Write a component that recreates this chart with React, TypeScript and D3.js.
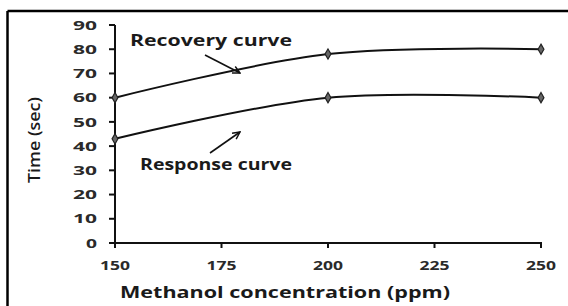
import React from "react";
import * as d3 from "d3";

const concentrations = [150, 200, 250];
const recoveryTimes = [60, 78, 80];
const responseTimes = [43, 60, 60];
const xTicks = [150, 175, 200, 225, 250];
const yTicks = [0, 10, 20, 30, 40, 50, 60, 70, 80, 90];
const xTitle = "Methanol concentration (ppm)";
const yTitle = "Time (sec)";
const recoveryLabel = "Recovery curve";
const responseLabel = "Response curve";

const W = 568;
const H = 306;

export default function App() {
  const x = d3.scaleLinear().domain([150, 250]).range([115, 541]);
  const y = d3.scaleLinear().domain([0, 90]).range([243, 25]);
  const line = d3
    .line<number>()
    .x((_, i) => x(concentrations[i]))
    .y((d) => y(d))
    .curve(d3.curveCatmullRom.alpha(0.5));
  const diamond = d3.symbol().type(d3.symbolDiamond).size(30)() as string;
  const font = "'Open Sans', 'DejaVu Sans', sans-serif";
  const series = [recoveryTimes, responseTimes];

  return (
    <svg
      width={W}
      height={H}
      style={{ position: "absolute", left: 0, top: 0, background: "#fff" }}
    >
      <defs>
        <marker
          id="arr"
          viewBox="0 0 10 10"
          refX="9"
          refY="5"
          markerWidth="9"
          markerHeight="9"
          orient="auto"
          markerUnits="userSpaceOnUse"
        >
          <path d="M1,1 L9,5 L1,9" fill="none" stroke="#111" strokeWidth="1.6" />
        </marker>
      </defs>
      {/* frame */}
      <line x1={7.5} x2={W} y1={11} y2={11} stroke="#000" strokeWidth={2.5} />
      <line x1={7.5} x2={7.5} y1={11} y2={H} stroke="#000" strokeWidth={2.5} />

      {/* y axis */}
      <line x1={x(150)} x2={x(150)} y1={y(90)} y2={y(0)} stroke="#111" strokeWidth={2} />
      {yTicks.map((t) => (
        <g key={"y" + t}>
          <line x1={x(150) - 6} x2={x(150)} y1={y(t)} y2={y(t)} stroke="#111" strokeWidth={2} />
          <text
            x={97}
            y={y(t)}
            dy="0.36em"
            textAnchor="end"
            fontFamily={font}
            fontWeight="bold"
            fontSize={13}
            fill="#2a2a2a"
            textLength={t === 0 ? 11 : 24}
            lengthAdjust="spacingAndGlyphs"
          >
            {t}
          </text>
        </g>
      ))}

      {/* x axis */}
      <line x1={x(150)} x2={x(250)} y1={y(0)} y2={y(0)} stroke="#111" strokeWidth={2} />
      {xTicks.map((t) => (
        <g key={"x" + t}>
          <line x1={x(t)} x2={x(t)} y1={y(0) - 1} y2={y(0) + 5} stroke="#111" strokeWidth={2} />
          <text
            x={x(t)}
            y={270}
            textAnchor="middle"
            fontFamily={font}
            fontWeight="bold"
            fontSize={13}
            fill="#2a2a2a"
            textLength={30}
            lengthAdjust="spacingAndGlyphs"
          >
            {t}
          </text>
        </g>
      ))}

      {/* titles */}
      <text
        x={285}
        y={298}
        textAnchor="middle"
        fontFamily={font}
        fontWeight="bold"
        fontSize={16}
        fill="#1a1a1a"
        textLength={330}
        lengthAdjust="spacingAndGlyphs"
      >
        {xTitle}
      </text>
      <text
        transform={`translate(40,${140}) rotate(-90)`}
        textAnchor="middle"
        fontFamily={font}
        fontWeight={600}
        fontSize={17}
        fill="#1a1a1a"
        textLength={86}
        lengthAdjust="spacingAndGlyphs"
      >
        {yTitle}
      </text>

      {/* series */}
      {series.map((s, k) => (
        <g key={"s" + k}>
          <path d={line(s) as string} fill="none" stroke="#111" strokeWidth={2} />
          {s.map((v, i) => (
            <path
              key={i}
              d={diamond}
              transform={`translate(${x(concentrations[i])},${y(v)})`}
              fill="#666"
              stroke="#222"
              strokeWidth={1.2}
            />
          ))}
        </g>
      ))}

      {/* annotations */}
      <text
        x={130}
        y={46}
        fontFamily={font}
        fontWeight="bold"
        fontSize={16}
        fill="#1a1a1a"
        textLength={162}
        lengthAdjust="spacingAndGlyphs"
      >
        {recoveryLabel}
      </text>
      <line x1={205} y1={55} x2={240} y2={73} stroke="#111" strokeWidth={1.6} markerEnd="url(#arr)" />
      <text
        x={140}
        y={170}
        fontFamily={font}
        fontWeight="bold"
        fontSize={16}
        fill="#1a1a1a"
        textLength={152}
        lengthAdjust="spacingAndGlyphs"
      >
        {responseLabel}
      </text>
      <line x1={210} y1={153} x2={240} y2={132} stroke="#111" strokeWidth={1.6} markerEnd="url(#arr)" />
    </svg>
  );
}
